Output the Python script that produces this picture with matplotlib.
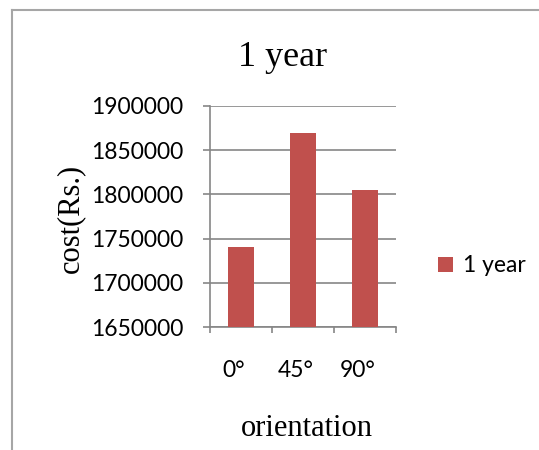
import numpy as np
import matplotlib.pyplot as plt
from matplotlib.lines import Line2D

# --- data ---
orientations = ["0°", "45°", "90°"]
cost_1yr = [1741000, 1870000, 1805000]
series_name = "1 year"
y_ticks = [1650000, 1700000, 1750000, 1800000, 1850000, 1900000]

W, H = 539, 450
fig = plt.figure(figsize=(W / 100, H / 100), dpi=100)
ax = fig.add_axes([210 / W, 1 - 327 / H, 186 / W, 221 / H])

grid_col = "#868686"
bar_col = "#C0504D"
sans = "Lato"
serif = "Liberation Serif"
tick_size = 16.5

x = np.arange(len(orientations))
ax.bar(x, cost_1yr, width=0.41, color=bar_col, label=series_name, zorder=3)

ax.set_xlim(-0.5, len(orientations) - 0.5)
ax.set_ylim(y_ticks[0], y_ticks[-1])
ax.set_yticks(y_ticks)
ax.set_yticklabels([str(v) for v in y_ticks], fontfamily=sans, fontsize=tick_size)
# category labels sit a little left of the bar centres
ax.set_xticks(x - 0.12)
ax.set_xticklabels(orientations, fontfamily=sans, fontsize=tick_size)
ax.set_xticks(np.arange(len(orientations) + 1) - 0.5, minor=True)

ax.tick_params(axis="x", which="major", length=0, pad=24)
ax.tick_params(axis="x", which="minor", length=4, width=1.2, color=grid_col)
ax.tick_params(axis="y", length=5, width=1.2, color=grid_col, pad=14)

ax.grid(axis="y", color=grid_col, linewidth=1.2, zorder=0)
for side in ["top", "right"]:
    ax.spines[side].set_visible(False)
for side in ["left", "bottom"]:
    ax.spines[side].set_color(grid_col)
    ax.spines[side].set_linewidth(1.2)

# titles and axis labels
fig.text(283 / W, 1 - 57 / H, "1 year", fontfamily=serif, fontsize=26,
         ha="center", va="center")
fig.text(307 / W, 1 - 428 / H, "orientation", fontfamily=serif, fontsize=22,
         ha="center", va="center")
fig.text(71 / W, 1 - 218 / H, "cost(Rs.)", fontfamily=serif, fontsize=22,
         ha="center", va="center", rotation=90)

ax.legend(loc="center left", bbox_to_anchor=(438 / W, 1 - 266 / H),
          bbox_transform=fig.transFigure, frameon=False, borderaxespad=0,
          borderpad=0, handlelength=0.65, handleheight=0.65, handletextpad=0.45,
          prop={"family": sans, "size": tick_size})

# chart frame (only top and left edges fall inside the image)
frame_col = "#A6A6A6"
fig.add_artist(Line2D([12 / W, 1], [1 - 10 / H, 1 - 10 / H], color=frame_col,
                      linewidth=1.5, transform=fig.transFigure))
fig.add_artist(Line2D([12 / W, 12 / W], [0, 1 - 10 / H], color=frame_col,
                      linewidth=1.5, transform=fig.transFigure))

fig.savefig("out.png", dpi=100)
